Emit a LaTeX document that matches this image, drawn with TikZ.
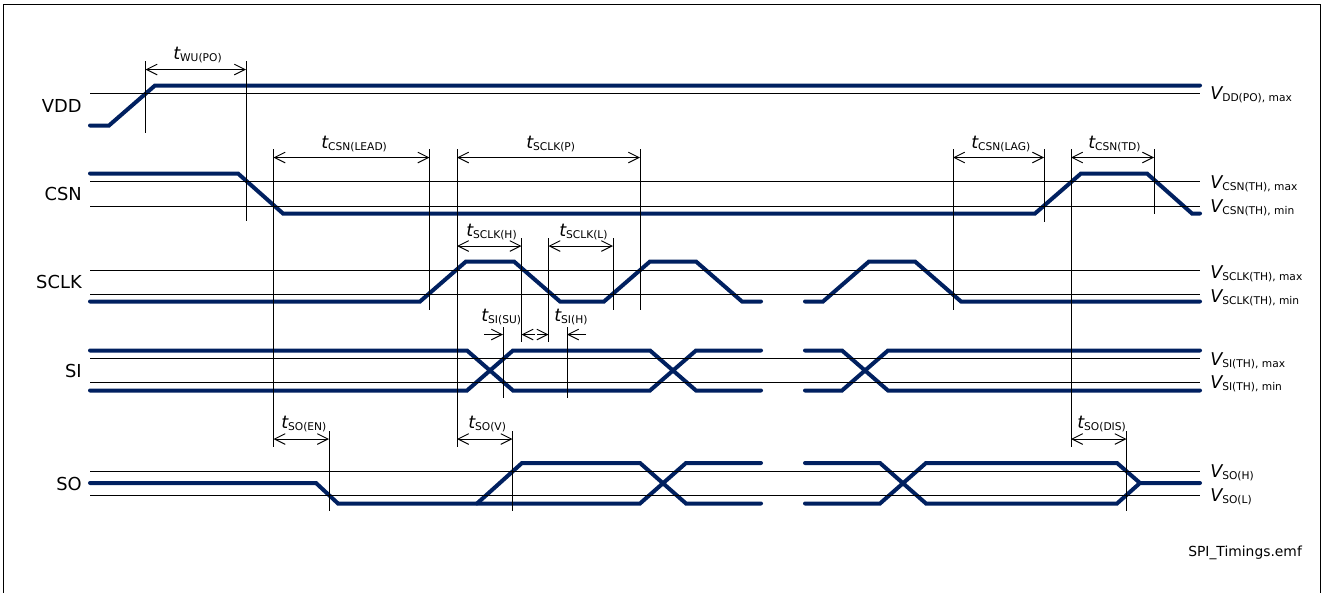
\documentclass[tikz,border=0pt]{standalone}
\usepackage{fontspec}
\setmainfont{DejaVu Sans}
\usetikzlibrary{arrows.meta}
\definecolor{signavy}{RGB}{0,32,96}
\newcommand{\symsub}[2]{{\fontsize{13.2}{14}\selectfont\itshape #1}\raisebox{-1.5pt}{\fontsize{8}{9}\selectfont #2}}
\tikzset{
  sig/.style={signavy,line width=3pt,line cap=round,line join=miter},
  thin line/.style={black,line width=.7pt},
  dimline/.style={thin line,{Straight Barb[length=8pt,width=8pt]}-{Straight Barb[length=8pt,width=8pt]}},
  rightarr/.style={thin line,-{Straight Barb[length=8pt,width=8pt]}},
  symlabel/.style={inner sep=0pt,anchor=base west},
  pinlabel/.style={inner sep=0pt,anchor=base east,font=\fontsize{13.4}{14}\selectfont},
}
\begin{document}
\begin{tikzpicture}[x=.75pt,y=-.75pt]
\useasboundingbox (0,0) rectangle (1329,593);
\fill[white] (0,0) rectangle (1329,593);
\draw[thin line] (3.5,593)--(3.5,4.5)--(1320.5,4.5)--(1320.5,593);
% signals
\draw[sig] (90,125.5)--(109,125.5)--(155,85.5)--(1200,85.5);
\draw[sig] (90,173.5)--(238,173.5)--(283,213.5)--(1035,213.5)--(1081,173.5)--(1147,173.5)--(1192,213.5)--(1200,213.5);
\draw[sig] (90,301.5)--(420,301.5)--(466,261.5)--(514,261.5)--(560,301.5)--(604,301.5)--(650,261.5)--(696,261.5)--(742,301.5)--(761,301.5);
\draw[sig] (805,301.5)--(823,301.5)--(869,261.5)--(915,261.5)--(961,301.5)--(1200,301.5);
\draw[sig] (90,350.5)--(467,350.5)--(513,390.5)--(650,390.5)--(696,350.5)--(761,350.5);
\draw[sig] (90,390.5)--(467,390.5)--(513,350.5)--(650,350.5)--(696,390.5)--(761,390.5);
\draw[sig] (805,350.5)--(842,350.5)--(888,390.5)--(1200,390.5);
\draw[sig] (805,390.5)--(842,390.5)--(888,350.5)--(1200,350.5);
\draw[sig] (90,483)--(316,483)--(338,503.5)--(640,503.5)--(686,463)--(761,463);
\draw[sig] (477,503.5)--(522,463)--(640,463)--(686,503.5)--(761,503.5);
\draw[sig] (805,463)--(880,463)--(926,503.5)--(1117,503.5)--(1140,483)--(1200,483);
\draw[sig] (805,503.5)--(880,503.5)--(926,463)--(1117,463)--(1140,483);
% thresholds
\foreach \y in {93.5,181.5,206,270,294,358.5,382.5,471,495}{\draw[thin line] (90,\y)--(1200,\y);}
% verticals
\foreach \x/\a/\b in {145.5/61/133,246/61/221,273.5/149/447,429.5/149/310,457/149/447,640/149/310,953/149/310,1044/149/222,1071/149/447,1154/149/214,521.5/238/342,548.5/238/342,613/238/310,503/327/398,567/327/398,329/431/511,512.5/431/511,1126.5/431/511}{\draw[thin line] (\x,\a)--(\x,\b);}
% dimensions
\foreach \a/\b/\y in {145.5/246/69.5,273.5/429.5/157.5,457/640/157.5,953/1044/157.5,1071/1154/157.5,457/521.5/246,548.5/613/246,273.5/329/439,457/512.5/439,1071/1126.5/439}{\draw[dimline] (\a,\y)--(\b,\y);}
\draw[rightarr] (484,334.5)--(503,334.5);
\draw[rightarr] (535,334.5)--(521.5,334.5);
\draw[rightarr] (537,334.5)--(548.5,334.5);
\draw[rightarr] (586,334.5)--(567,334.5);
% pin names
\foreach \n/\lab/\y in {vdd/VDD/112,csn/CSN/200,sclk/SCLK/288.5,si/SI/377,so/SO/490}{\node[pinlabel] (\n) at (82,\y) {\lab};}
% times
\foreach \n/\sub/\x/\y in {twu/WU(PO)/173/59,tlead/CSN(LEAD)/321/148,tp/SCLK(P)/526/148,tlag/CSN(LAG)/971/148,ttd/CSN(TD)/1088/148,th/SCLK(H)/466/236,tl/SCLK(L)/559/236,tsu/SI(SU)/481/321,tsih/SI(H)/554/321,tv/SO(V)/468/428,ten/SO(EN)/281/428,tdis/SO(DIS)/1077/428}{\node[symlabel] (\n) at (\x,\y) {\symsub{t}{\sub}};}
% levels
\foreach \n/\sub/\y in {vdd0/{DD(PO), max}/99,vcsn1/{CSN(TH), max}/188,vcsn0/{CSN(TH), min}/212,vclk1/{SCLK(TH), max}/278,vclk0/{SCLK(TH), min}/302,vsi1/{SI(TH), max}/365,vsi0/{SI(TH), min}/388,vsoh/SO(H)/477,vsol/SO(L)/501}{\node[symlabel] (\n) at (1210,\y) {\symsub{V}{\sub}};}
\node[symlabel,font=\fontsize{10.4}{12}\selectfont] (fname) at (1188,556) {SPI\_Timings.emf};
\end{tikzpicture}
\end{document}
